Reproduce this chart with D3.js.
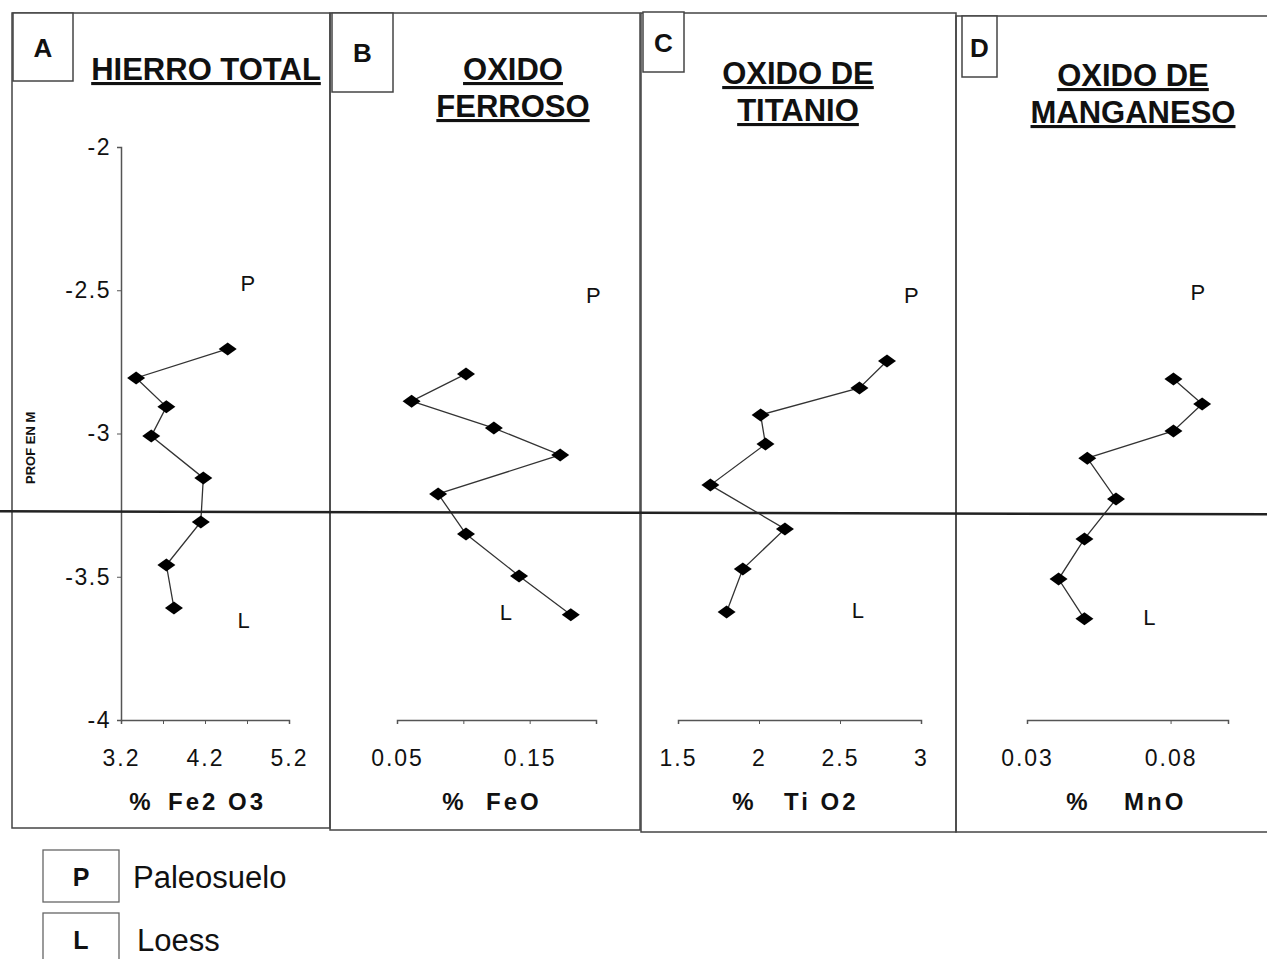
<!DOCTYPE html>
<html>
<head>
<meta charset="utf-8">
<script src="https://cdn.jsdelivr.net/npm/d3@7"></script>
<style>
  body { margin: 0; background: #fff; }
  svg text { font-family: "Liberation Sans", Arial, sans-serif; fill: #111; }
</style>
</head>
<body>
<div id="chart"></div>
<script>
// depth (m) and value for each panel
const depthA = [-2.705, -2.806, -2.907, -3.009, -3.155, -3.309, -3.459, -3.609];
const fe2o3  = [4.47, 3.38, 3.74, 3.56, 4.18, 4.15, 3.74, 3.83];

const depthB = [-2.792, -2.887, -2.981, -3.075, -3.211, -3.351, -3.497, -3.633];
const feo    = [0.102, 0.061, 0.123, 0.173, 0.081, 0.102, 0.142, 0.181];

const depthC = [-2.747, -2.841, -2.935, -3.037, -3.180, -3.333, -3.473, -3.623];
const tio2   = [2.79, 2.62, 2.01, 2.04, 1.70, 2.16, 1.90, 1.80];

const depthD = [-2.810, -2.897, -2.991, -3.086, -3.229, -3.368, -3.508, -3.647];
const mno    = [0.081, 0.091, 0.081, 0.051, 0.061, 0.050, 0.041, 0.050];

const depthTicks = [-2, -2.5, -3, -3.5, -4];
const boundaryDepth = -3.275;

const letters = ['A', 'B', 'C', 'D'];
const titles = [['HIERRO TOTAL'], ['OXIDO', 'FERROSO'], ['OXIDO DE', 'TITANIO'], ['OXIDO DE', 'MANGANESO']];
const units = ['Fe2 O3', 'FeO', 'Ti O2', 'MnO'];
const domains = [[3.2, 5.2], [0.05, 0.2], [1.5, 3], [0.03, 0.1]];
const ticks = [[3.2, 3.7, 4.2, 4.7, 5.2], [0.05, 0.1, 0.15, 0.2], [1.5, 2, 2.5, 3], [0.03, 0.08]];
const tickLabels = [['3.2', '4.2', '5.2'], ['0.05', '0.15'], ['1.5', '2', '2.5', '3'], ['0.03', '0.08']];
// P / L annotations: [value, depth]
const markP = [[4.71, -2.475], [0.198, -2.517], [2.94, -2.517], [0.0895, -2.507]];
const markL = [[4.66, -3.652], [0.132, -3.623], [2.61, -3.616], [0.0726, -3.64]];
const legendItems = [['P', 'Paleosuelo'], ['L', 'Loess']];

const series = [
  { depth: depthA, value: fe2o3 },
  { depth: depthB, value: feo },
  { depth: depthC, value: tio2 },
  { depth: depthD, value: mno }
];

const width = 1267, height = 959;

// layout of each panel
const panels = [
  { left: 12,  right: 330,  top: 13, bottom: 828, x0: 121,  x1: 289,  box: [13, 13, 60, 68],  letterY: 57, titleX: 206,  titleY: 80 },
  { left: 330, right: 640,  top: 13, bottom: 830, x0: 397,  x1: 596,  box: [332, 13, 61, 79], letterY: 62, titleX: 513,  titleY: 80 },
  { left: 641, right: 956,  top: 13, bottom: 832, x0: 678,  x1: 921,  box: [643, 12, 41, 60], letterY: 52, titleX: 798,  titleY: 84 },
  { left: 956, right: 1280, top: 16, bottom: 832, x0: 1027, x1: 1228, box: [962, 16, 35, 61], letterY: 57, titleX: 1133, titleY: 86 }
];
const unitX = [[140, 168], [453, 486], [743, 784], [1077, 1124]];

const svg = d3.select('#chart')
  .append('svg')
  .attr('width', width)
  .attr('height', height);

const y = d3.scaleLinear().domain([-2, -4]).range([147, 720]);
const axisY = 720;

panels.forEach((p, i) => {
  const g = svg.append('g').attr('class', 'panel');

  g.append('rect')
    .attr('x', p.left).attr('y', p.top)
    .attr('width', p.right - p.left).attr('height', p.bottom - p.top)
    .attr('fill', 'none').attr('stroke', '#444').attr('stroke-width', 1.5);

  g.append('rect')
    .attr('x', p.box[0]).attr('y', p.box[1])
    .attr('width', p.box[2]).attr('height', p.box[3])
    .attr('fill', '#fff').attr('stroke', '#444').attr('stroke-width', 1.5);

  g.append('text')
    .attr('x', p.box[0] + p.box[2] / 2).attr('y', p.letterY)
    .attr('text-anchor', 'middle')
    .style('font-size', '26px').style('font-weight', 'bold')
    .text(letters[i]);

  titles[i].forEach((t, k) => {
    g.append('text')
      .attr('x', p.titleX).attr('y', p.titleY + k * 37)
      .attr('text-anchor', 'middle')
      .style('font-size', '31px').style('font-weight', 'bold')
      .style('text-decoration', 'underline')
      .text(t);
  });

  const x = d3.scaleLinear().domain(domains[i]).range([p.x0, p.x1]);

  const xAxis = d3.axisBottom(x)
    .tickValues(ticks[i])
    .tickSize(4)
    .tickPadding(26)
    .tickFormat(d => tickLabels[i].includes(String(d)) ? String(d) : '');

  const gx = g.append('g')
    .attr('transform', `translate(0, ${axisY})`)
    .call(xAxis);
  gx.select('.domain').attr('stroke', '#555').attr('stroke-width', 1.5);
  gx.selectAll('.tick line').attr('stroke', '#555');
  gx.selectAll('.tick text')
    .attr('fill', '#111')
    .style('font-size', '23px')
    .style('letter-spacing', '2px')
    .style('font-family', '"Liberation Sans", Arial, sans-serif');

  g.append('text')
    .attr('x', unitX[i][0]).attr('y', 810)
    .attr('text-anchor', 'middle')
    .style('font-size', '24px').style('font-weight', 'bold')
    .text('%');
  g.append('text')
    .attr('x', unitX[i][1]).attr('y', 810)
    .style('font-size', '24px').style('font-weight', 'bold')
    .style('letter-spacing', '3px')
    .text(units[i]);

  const pts = series[i].depth.map((d, k) => [series[i].value[k], d]);

  g.append('path')
    .datum(pts)
    .attr('fill', 'none')
    .attr('stroke', '#333')
    .attr('stroke-width', 1.3)
    .attr('d', d3.line().x(d => x(d[0])).y(d => y(d[1])));

  g.selectAll('.marker')
    .data(pts)
    .enter()
    .append('path')
    .attr('class', 'marker')
    .attr('transform', d => `translate(${x(d[0])}, ${y(d[1])})`)
    .attr('d', 'M-9,0L0,-6.5L9,0L0,6.5Z')
    .attr('fill', '#000');

  g.append('text')
    .attr('x', x(markP[i][0])).attr('y', y(markP[i][1]))
    .attr('text-anchor', 'middle')
    .attr('dy', '0.35em')
    .style('font-size', '22px')
    .attr('fill', '#666')
    .text('P');
  g.append('text')
    .attr('x', x(markL[i][0])).attr('y', y(markL[i][1]))
    .attr('text-anchor', 'middle')
    .attr('dy', '0.35em')
    .style('font-size', '22px')
    .attr('fill', '#666')
    .text('L');
});

// depth axis only on panel A
const yAxis = d3.axisLeft(y)
  .tickValues(depthTicks)
  .tickSize(4)
  .tickPadding(6)
  .tickFormat(d => String(d).replace('\u2212', '-'));

const gy = svg.append('g')
  .attr('transform', `translate(${panels[0].x0}, 0)`)
  .call(yAxis);
gy.select('.domain').attr('stroke', '#555').attr('stroke-width', 1.5);
gy.selectAll('.tick line').attr('stroke', '#555');
gy.selectAll('.tick text')
  .attr('fill', '#111')
  .style('font-size', '23px')
  .style('letter-spacing', '1.5px')
  .style('font-family', '"Liberation Sans", Arial, sans-serif');

svg.append('text')
  .attr('transform', `translate(35, ${y(-3.05)}) rotate(-90)`)
  .attr('text-anchor', 'middle')
  .style('font-size', '13px').style('font-weight', 'bold')
  .text('PROF EN M');

// paleosol / loess boundary
svg.append('line')
  .attr('x1', 0).attr('x2', width)
  .attr('y1', y(boundaryDepth) - 1).attr('y2', y(boundaryDepth) + 2)
  .attr('stroke', '#222').attr('stroke-width', 2.5);

// legend
const legend = svg.append('g').attr('class', 'legend');
legendItems.forEach((item, k) => {
  const ly = 850 + k * 63;
  legend.append('rect')
    .attr('x', 43).attr('y', ly)
    .attr('width', 76).attr('height', 52)
    .attr('fill', 'none').attr('stroke', '#666').attr('stroke-width', 1.3);
  legend.append('text')
    .attr('x', 81).attr('y', ly + 36)
    .attr('text-anchor', 'middle')
    .style('font-size', '25px').style('font-weight', 'bold')
    .text(item[0]);
  legend.append('text')
    .attr('x', 133 + k * 4).attr('y', ly + 38)
    .style('font-size', '31px')
    .attr('fill', '#222')
    .text(item[1]);
});
</script>
</body>
</html>
